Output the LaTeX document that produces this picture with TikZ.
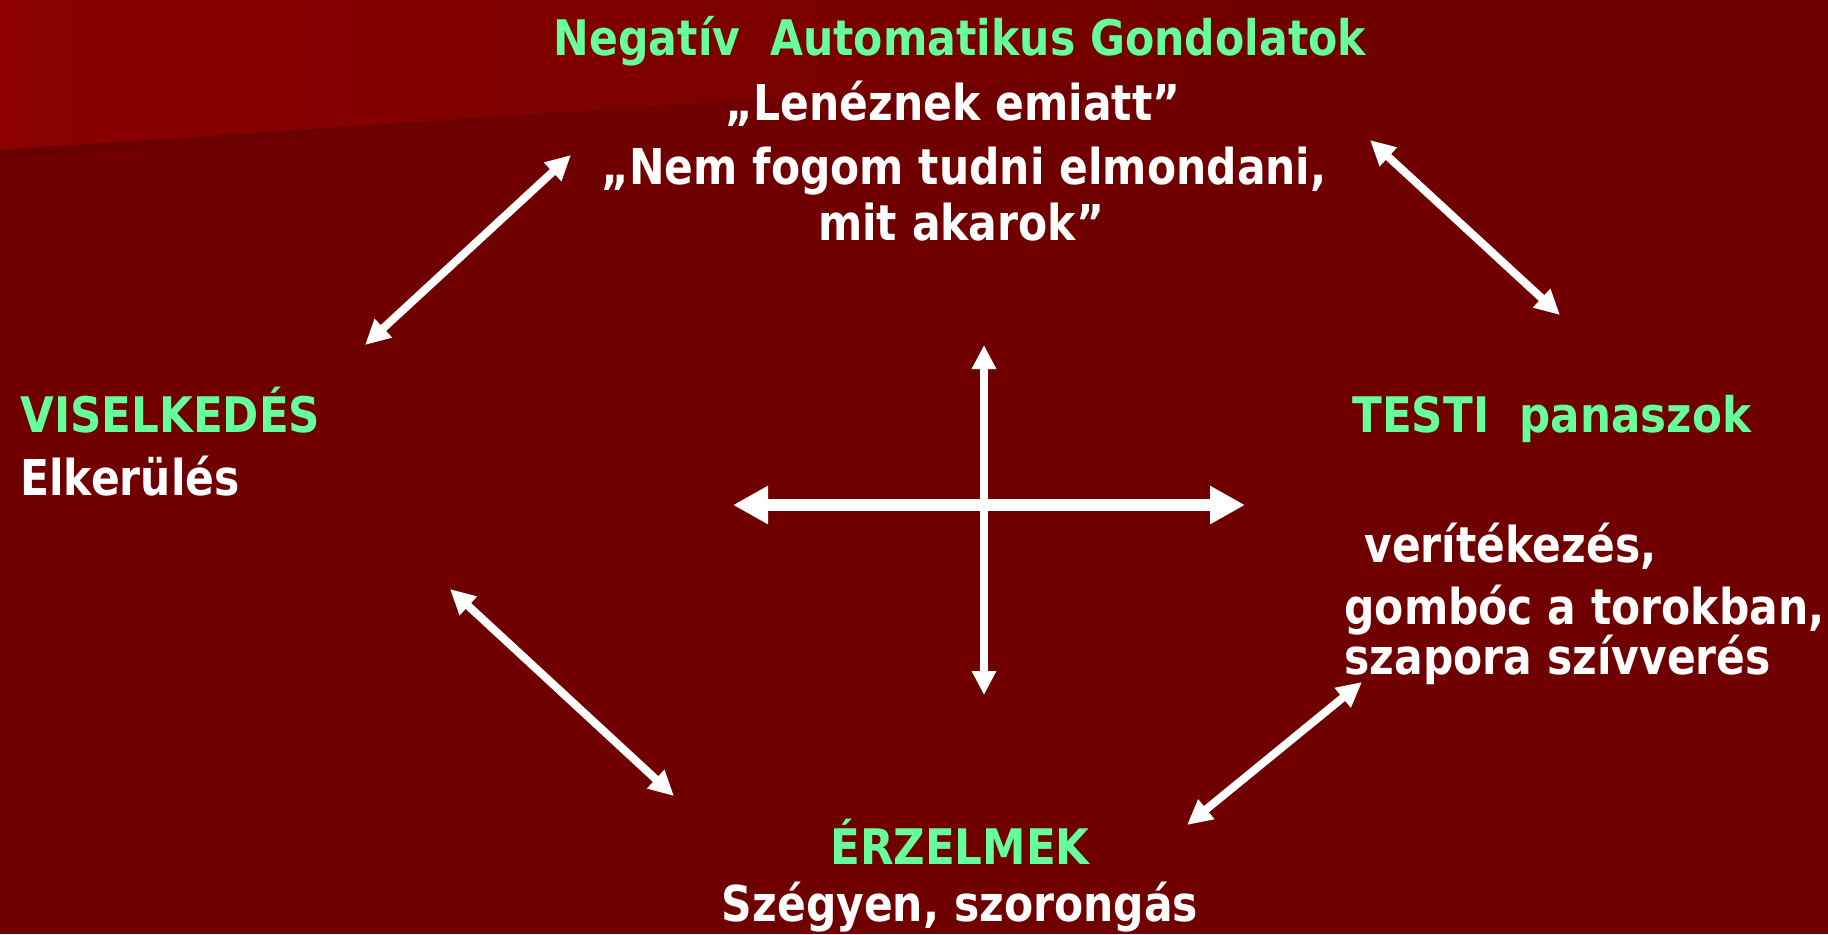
\documentclass[tikz,border=0pt]{standalone}
\usepackage{fontspec}
\setmainfont{DejaVu Sans}[FakeStretch=0.88]
\newfontfamily\headfont{DejaVu Sans}[FakeStretch=0.89]
\newfontfamily\titlefont{DejaVu Sans}[FakeStretch=0.87]
\newfontfamily\bodyfont{DejaVu Sans}[FakeStretch=0.86]
\usetikzlibrary{arrows.meta}
\definecolor{bgbase}{HTML}{700000}
\definecolor{bgtop}{HTML}{8C0000}
\definecolor{bgshadow}{HTML}{680000}
\definecolor{hdgreen}{HTML}{66FF99}
\tikzset{
  head/.style={inner sep=0pt, text=hdgreen, font=\headfont\bfseries\fontsize{24.5pt}{29pt}\selectfont},
  title/.style={head, font=\titlefont\bfseries\fontsize{24.5pt}{29pt}\selectfont},
  body/.style={inner sep=0pt, text=white, font=\bodyfont\bfseries\fontsize{24.7pt}{29pt}\selectfont},
  dbl/.style={white, line width=4pt, {Triangle[length=12.5pt,width=12pt]}-{Triangle[length=12.5pt,width=12pt]}},
  dblthick/.style={white, line width=6pt, {Triangle[length=17.5pt,width=18pt]}-{Triangle[length=17.5pt,width=18pt]}},
  dblv/.style={white, line width=4pt, {Triangle[length=12pt,width=11.5pt]}-{Triangle[length=12pt,width=11.5pt]}},
}
\begin{document}
\begin{tikzpicture}[x=0.5pt,y=-0.5pt]
\useasboundingbox (0,0) rectangle (1828,934);
% background
\fill[bgbase] (0,0) rectangle (1828,934);
\shade[left color=bgtop, right color=bgbase] (0,0) -- (1300,0) -- (1300,63) -- (0,150) -- cycle;
\shade[left color=bgshadow, right color=bgbase] (0,150) -- (700,103) -- (700,107) -- (0,160) -- cycle;

% texts
\node[title, anchor=base] (nat) at (960,55) {Negatív\ \ Automatikus Gondolatok};
\node[body, anchor=base] (q1) at (953,120) {„Lenéznek emiatt”};
\node[body, anchor=base] (q2) at (964,184) {„Nem fogom tudni elmondani,};
\node[body, anchor=base] (q3) at (961,240) {mit akarok”};

\node[head, anchor=base west] (vis) at (20,432) {VISELKEDÉS};
\node[body, anchor=base west] (elk) at (20,495) {Elkerülés};

\node[head, anchor=base west] (testi) at (1352,432) {TESTI\ \ panaszok};
\node[body, anchor=base west] (ver) at (1364,562) {verítékezés,};
\node[body, anchor=base west] (gom) at (1344,624) {gombóc a torokban,};
\node[body, anchor=base west] (sza) at (1344,674) {szapora szívverés};

\node[head, anchor=base] (erz) at (960,864) {ÉRZELMEK};
\node[body, anchor=base] (sze) at (960,921) {Szégyen, szorongás};

% arrow end points
\coordinate (a1s) at (365,345); \coordinate (a1e) at (571,155);
\coordinate (a2s) at (1370,140); \coordinate (a2e) at (1560,315);
\coordinate (a3s) at (450,589); \coordinate (a3e) at (674,796);
\coordinate (a4s) at (1362,682); \coordinate (a4e) at (1187,825);
\coordinate (hl) at (733,505); \coordinate (hr) at (1245,505);
\coordinate (vt) at (984,345); \coordinate (vb) at (984,695);

\draw[dbl] (a1s) -- (a1e);
\draw[dbl] (a2s) -- (a2e);
\draw[dbl] (a3s) -- (a3e);
\draw[dbl] (a4s) -- (a4e);
\draw[dblv] (vt) -- (vb);
\draw[dblthick] (hl) -- (hr);
\end{tikzpicture}
\end{document}
